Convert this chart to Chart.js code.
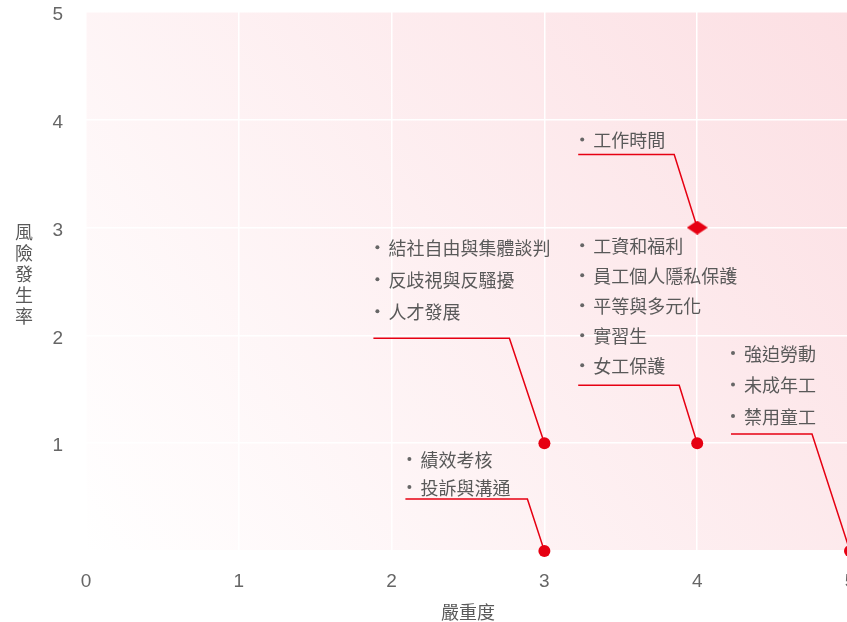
<!DOCTYPE html>
<html>
<head>
<meta charset="utf-8">
<script src="https://cdn.jsdelivr.net/npm/chart.js@4.4.0/dist/chart.umd.min.js"></script>
<style>
  html, body { margin: 0; padding: 0; background: #fff; overflow: hidden; }
  #riskChart { position: absolute; left: 0; top: 0; }
</style>
</head>
<body>
<canvas id="riskChart" width="860" height="622"></canvas>
<script>
// Datos del gráfico
var severity = [3, 4, 4, 3, 5];
var likelihood = [1, 3, 1, 0, 0];
var riskItems = [
    ['結社自由與集體談判', '反歧視與反騷擾', '人才發展'],
    ['工作時間'],
    ['工資和福利', '員工個人隱私保護', '平等與多元化', '實習生', '女工保護'],
    ['績效考核', '投訴與溝通'],
    ['強迫勞動', '未成年工', '禁用童工']
];
var tickValues = [0, 1, 2, 3, 4, 5];
var xTitle = '嚴重度';
var yTitle = '風險發生率';

// Estilos y posiciones de las etiquetas (relativas al punto)
var RED = '#e60012';
var TEXT = '#595959';
var labelLayout = [
    { tx: -156, ty: -196, lh: 32, uy: -105, ux1: -171, ux2: -35 },
    { tx: -104, ty: -88,  lh: 30, uy: -73,  ux1: -119, ux2: -23 },
    { tx: -104, ty: -198, lh: 30, uy: -58,  ux1: -119, ux2: -18 },
    { tx: -124, ty: -92,  lh: 28, uy: -52,  ux1: -139, ux2: -17 },
    { tx: -106, ty: -198, lh: 31.5, uy: -117, ux1: -119, ux2: -38 }
];
var shapeIndex = ['circle', 'diamond', 'circle', 'circle', 'circle'];

// Rombo achatado para el punto destacado
var diamond = document.createElement('canvas');
diamond.width = 21;
diamond.height = 14;
var dctx = diamond.getContext('2d');
dctx.fillStyle = RED;
dctx.beginPath();
dctx.moveTo(10.5, 0);
dctx.lineTo(21, 7);
dctx.lineTo(10.5, 14);
dctx.lineTo(0, 7);
dctx.closePath();
dctx.fill();

var points = severity.map(function (x, i) {
    return { x: x, y: likelihood[i] };
});

// Fondo degradado del área del gráfico
var bgPlugin = {
    id: 'bgGradient',
    beforeDraw: function (chart) {
        var a = chart.chartArea;
        var ctx = chart.ctx;
        var g = ctx.createLinearGradient(a.right, a.top, a.left, a.bottom);
        g.addColorStop(0, '#fcdfe3');
        g.addColorStop(1, '#ffffff');
        ctx.save();
        ctx.fillStyle = g;
        ctx.fillRect(a.left, a.top, a.right - a.left, a.bottom - a.top);
        ctx.restore();
    }
};

// Etiquetas con líneas guía
var labelPlugin = {
    id: 'riskLabels',
    beforeDatasetsDraw: function (chart) {
        var ctx = chart.ctx;
        var meta = chart.getDatasetMeta(0);
        ctx.save();
        meta.data.forEach(function (pt, i) {
            var L = labelLayout[i];
            var px = pt.x, py = pt.y;
            ctx.strokeStyle = RED;
            ctx.lineWidth = 1.5;
            ctx.beginPath();
            ctx.moveTo(px + L.ux1, py + L.uy);
            ctx.lineTo(px + L.ux2, py + L.uy);
            ctx.lineTo(px, py);
            ctx.stroke();
            ctx.textBaseline = 'middle';
            ctx.textAlign = 'left';
            riskItems[i].forEach(function (t, j) {
                var y = py + L.ty + j * L.lh;
                ctx.fillStyle = '#666';
                ctx.beginPath();
                ctx.arc(px + L.tx - 11, y, 2, 0, Math.PI * 2);
                ctx.fill();
                ctx.fillStyle = TEXT;
                ctx.font = '18px "Noto Sans CJK TC"';
                ctx.fillText(t, px + L.tx, y + 1);
            });
        });
        ctx.restore();
    },
    afterDraw: function (chart) {
        // Título vertical del eje Y
        var ctx = chart.ctx;
        ctx.save();
        ctx.fillStyle = TEXT;
        ctx.font = '18px "Noto Sans CJK TC"';
        ctx.textAlign = 'center';
        ctx.textBaseline = 'middle';
        Array.from(yTitle).forEach(function (c, j) {
            ctx.fillText(c, 24, 232 + j * 21);
        });
        ctx.restore();
    }
};

new Chart(document.getElementById('riskChart'), {
    type: 'scatter',
    data: {
        datasets: [{
            data: points,
            clip: false,
            backgroundColor: RED,
            borderColor: RED,
            borderWidth: 0,
            pointRadius: 6,
            pointHoverRadius: 6,
            pointStyle: function (c) {
                return shapeIndex[c.dataIndex] === 'diamond' ? diamond : 'circle';
            }
        }]
    },
    plugins: [bgPlugin, labelPlugin],
    options: {
        responsive: false,
        animation: false,
        layout: { padding: { left: 0, right: 10, top: 12, bottom: 0 } },
        plugins: {
            legend: { display: false },
            tooltip: { enabled: false }
        },
        scales: {
            x: {
                type: 'linear',
                min: 0,
                max: 5,
                afterBuildTicks: function (s) {
                    s.ticks = tickValues.map(function (v) { return { value: v }; });
                },
                afterFit: function (s) {
                    s.height = 71;
                    s.paddingLeft = 0;
                    s.paddingRight = 0;
                },
                grid: { color: '#ffffff', lineWidth: 1.5, drawTicks: false },
                border: { display: false },
                ticks: {
                    padding: 19,
                    color: '#666',
                    font: { family: 'Liberation Sans, Arial', size: 19 }
                },
                title: {
                    display: true,
                    text: xTitle,
                    color: TEXT,
                    padding: { top: 0, bottom: -1 },
                    font: { family: 'Noto Sans CJK TC', size: 18 }
                }
            },
            y: {
                type: 'linear',
                min: 0,
                max: 5,
                afterBuildTicks: function (s) {
                    s.ticks = tickValues.map(function (v) { return { value: v }; });
                },
                afterFit: function (s) {
                    s.width = 86;
                    s.paddingTop = 0;
                    s.paddingBottom = 0;
                },
                grid: { color: '#ffffff', lineWidth: 1.5, drawTicks: false },
                border: { display: false },
                ticks: {
                    padding: 23,
                    labelOffset: 3,
                    color: '#666',
                    font: { family: 'Liberation Sans, Arial', size: 19 },
                    callback: function (v) { return v === 0 ? '' : v; }
                }
            }
        }
    }
});
</script>
</body>
</html>
